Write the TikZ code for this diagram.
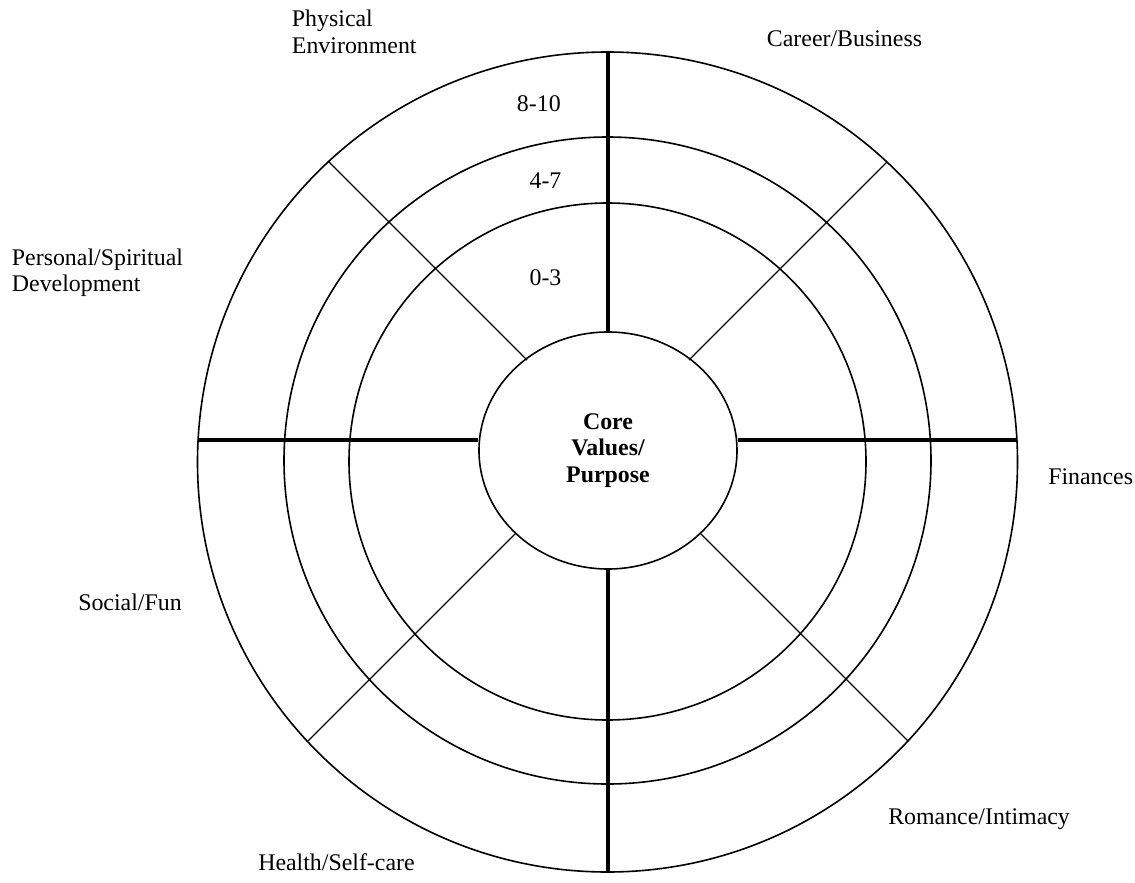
\documentclass[tikz,border=0pt]{standalone}
\usepackage{fontspec}
\setmainfont{Liberation Serif}
\usetikzlibrary{shapes.geometric}
\tikzset{
  ring/.style={line width=1.2pt},
  spoke/.style={line width=0.9pt},
  axis/.style={line width=2.4pt},
  lbl/.style={anchor=base west,inner sep=0pt,align=left,font=\fontsize{17.9}{20}\selectfont},
}
\begin{document}
\begin{tikzpicture}[x=0.75pt,y=-0.75pt]
    \useasboundingbox (0,0) rectangle (1135,882);
    \def\cx{607.5} \def\cy{462}
    %\draw[gray!40] (0,0) grid[step=50] (1135,882);
    \draw[ring] (\cx,\cy) circle[radius=410];
    \draw[ring] (\cx,460.5) circle[radius=323.5];
    \draw[ring] (\cx,461.5) circle[radius=258.5];
    \node[draw,ellipse,line width=1.2pt,minimum width=193.5pt,minimum height=177.75pt,
          align=center,font=\fontsize{17.9}{20}\selectfont\bfseries] (core) at (608,450.5)
          {Core\\Values/\\Purpose};
    % ends on the outer ring
    \coordinate (top) at (608,52);
    \coordinate (bot) at (608,872);
    \coordinate (left) at (198,440);
    \coordinate (right) at (1017,440);
    \coordinate (ul) at (328.5,161.5);
    \coordinate (ur) at (887,162);
    \coordinate (dr) at (908,741);
    \coordinate (dl) at (307.5,741.5);
    \draw[axis] (top) -- (core.north);
    \draw[axis] (core.south) -- (bot);
    \draw[axis] (left) -- (left -| core.west);
    \draw[axis] (right) -- (right -| core.east);
    \draw[spoke] (ul) -- (527,360);
    \draw[spoke] (ur) -- (689,360);
    \draw[spoke] (dr) -- (700.3,533.3);
    \draw[spoke] (dl) -- (515.7,533.3);
    % scores
    \node[lbl] (s3) at (516.7,111.7) {8-10};
    \node[lbl] (s2) at (529.3,188.3) {4-7};
    \node[lbl] (s1) at (529.3,285.7) {0-3};
    % areas (base = last line)
    \node[lbl] (phys) at (291.7,53.3) {Physical\\Environment};
    \node[lbl] (career) at (766.7,46.7) {Career/Business};
    \node[lbl] (pers) at (11.7,291.7) {Personal/Spiritual\\Development};
    \node[lbl] (fin) at (1048,484) {Finances};
    \node[lbl] (social) at (78,610) {Social/Fun};
    \node[lbl] (rom) at (888,824) {Romance/Intimacy};
    \node[lbl] (health) at (258,870) {Health/Self-care};
\end{tikzpicture}
\end{document}
